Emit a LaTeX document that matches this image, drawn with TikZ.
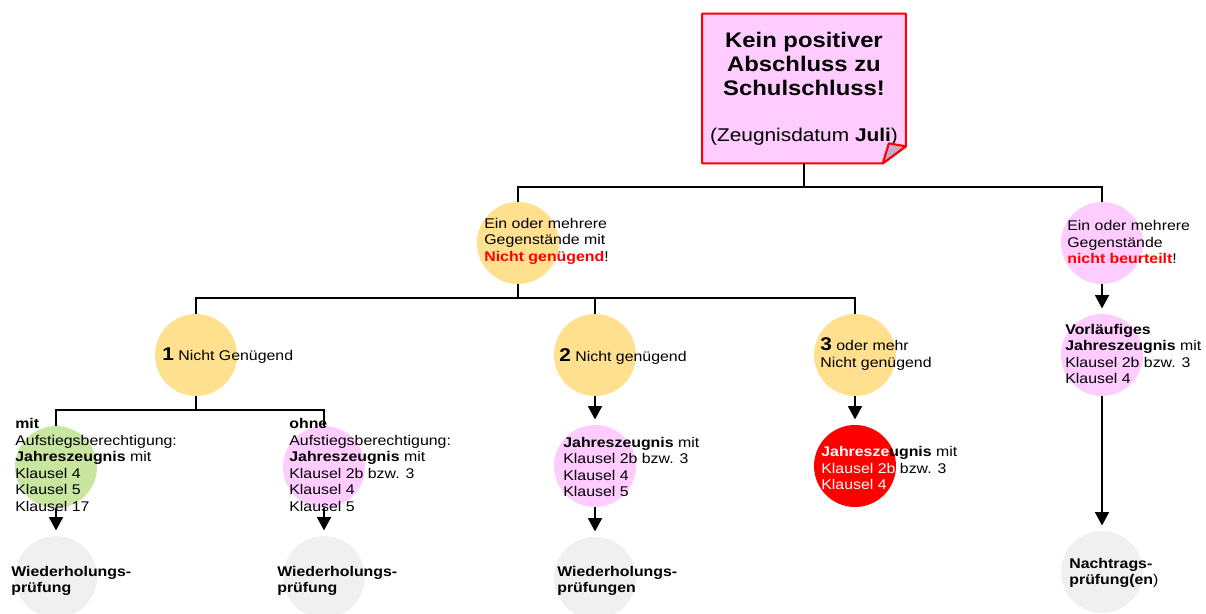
\documentclass[tikz,border=0pt]{standalone}
\usepackage{fontspec}
\setmainfont{Liberation Sans}[FakeStretch=1.13]
\usetikzlibrary{calc,positioning,arrows.meta}

\definecolor{gelb}{HTML}{FFE08F}
\definecolor{rosa}{HTML}{FFCCFF}
\definecolor{gruen}{HTML}{C8E6A0}
\definecolor{grau}{HTML}{F0F0F0}
\definecolor{knick}{HTML}{C8AACD}
\newcommand{\nzahl}[1]{{\fontsize{10.5}{9.4}\selectfont\bfseries #1}}

\begin{document}
\begin{tikzpicture}[x=0.02cm,y=-0.02cm,
  kreis/.style={circle,minimum size=1.64cm,inner sep=0pt},
  txt/.style={anchor=west,align=left,inner sep=0pt,font=\fontsize{8}{9.4}\selectfont},
  linie/.style={line width=0.6pt},
  pfeil/.style={linie,-{Triangle[width=8pt,length=7.5pt]},shorten >=3pt}]
  \clip (0,0) rectangle (1206,614);

  % Kopf
  \node[minimum width=4.06cm,minimum height=2.98cm,fill=rosa,inner sep=0pt,align=center,
        font=\fontsize{12}{13.9}\selectfont\bfseries] (kein) at (804,88.5)
    {Kein positiver\\Abschluss zu\\Schulschluss!\\[12pt]
     \fontsize{10.5}{12}\selectfont\mdseries(Zeugnisdatum \textbf{Juli})};
  \fill[white] (kein.south east) -- ($(kein.south east)+(0,-17)$) -- ($(kein.south east)+(-23,0)$) -- cycle;
  \draw[red,line width=1.2pt,line join=round] (kein.north west) -- (kein.north east) -- ($(kein.south east)+(0,-17)$)
    -- ($(kein.south east)+(-23,0)$) -- (kein.south west) -- cycle;
  \filldraw[fill=knick,draw=red,line width=1.2pt,line join=round] ($(kein.south east)+(-23,0)$)
    -- ($(kein.south east)+(-17,-20)$) -- ($(kein.south east)+(0,-17)$) -- cycle;

  % Kreise
  \node[kreis,fill=gelb] (mehrng) at (518,243) {};
  \node[kreis,fill=rosa] (mehrnb) at (1102,243) {};
  \node[kreis,fill=gelb] (eins) at (196,355) {};
  \node[kreis,fill=gelb] (zwei) at (595,355) {};
  \node[kreis,fill=gelb] (drei) at (855,355) {};
  \node[kreis,fill=rosa] (vorl) at (1102,355) {};
  \node[kreis,fill=gruen] (mitA) at (56,467) {};
  \node[kreis,fill=rosa] (ohneA) at (324,467) {};
  \node[kreis,fill=rosa] (jz2) at (595,466) {};
  \node[kreis,fill=red] (jz3) at (855,466) {};
  \node[kreis,fill=grau] (wh1) at (56,577) {};
  \node[kreis,fill=grau] (wh2) at (324,577) {};
  \node[kreis,fill=grau] (wh3) at (595,578) {};
  \node[kreis,fill=grau] (nachtr) at (1102,572) {};

  % Texte
  \node[txt] (mehrngT) at (484,241) {Ein oder mehrere\\Gegenstände mit\\\textcolor{red}{\textbf{Nicht genügend}}!};
  \node[txt] (mehrnbT) at (1067,242) {Ein oder mehrere\\Gegenstände\\\textcolor{red}{\textbf{nicht beurteilt}}!};
  \node[txt] (einsT) at (162,356) {\nzahl{1} Nicht Genügend};
  \node[txt] (zweiT) at (559,357) {\nzahl{2} Nicht genügend};
  \node[txt] (dreiT) at (820,354) {\nzahl{3} oder mehr\\Nicht genügend};
  \node[txt] (vorlT) at (1065,354) {\textbf{Vorläufiges}\\\textbf{Jahreszeugnis} mit\\Klausel 2b bzw. 3\\Klausel 4};
  \node[txt] (mitAT) at (15,465) {\textbf{mit}\\Aufstiegsberechtigung:\\\textbf{Jahreszeugnis} mit\\Klausel 4\\Klausel 5\\Klausel 17};
  \node[txt] (ohneAT) at (289,465) {\textbf{ohne}\\Aufstiegsberechtigung:\\\textbf{Jahreszeugnis} mit\\Klausel 2b bzw. 3\\Klausel 4\\Klausel 5};
  \node[txt] (jz2T) at (563,467) {\textbf{Jahreszeugnis} mit\\Klausel 2b bzw. 3\\Klausel 4\\Klausel 5};
  \node[txt] (jz3T) at (821,468) {\textbf{\textcolor{white}{Jahresze}ugnis} mit\\\textcolor{white}{Klausel 2b} bzw. 3\\\textcolor{white}{Klausel 4}};
  \node[txt,font=\fontsize{8}{9.4}\selectfont\bfseries] (wh1T) at (11,581) {Wiederholungs-\\prüfung};
  \node[txt,font=\fontsize{8}{9.4}\selectfont\bfseries] (wh2T) at (277,581) {Wiederholungs-\\prüfung};
  \node[txt,font=\fontsize{8}{9.4}\selectfont\bfseries] (wh3T) at (557,581) {Wiederholungs-\\prüfungen};
  \node[txt,font=\fontsize{8}{9.4}\selectfont\bfseries] (nachtrT) at (1069,573) {Nachtrags-\\prüfung(en\mdseries)};

  % Verbindungen
  \coordinate (ast1) at (804,187);
  \coordinate (ast2) at (518,298);
  \coordinate (ast3) at (196,410);
  \draw[linie] (kein.south) -- (ast1);
  \draw[linie] (mehrng.north) |- (ast1) -| (mehrnb.north);
  \draw[linie] (mehrng.south) -- (ast2);
  \draw[linie] (eins.north) |- (ast2) -| (drei.north);
  \draw[linie] (ast2) -| (zwei.north);
  \draw[linie] (eins.south) -- (ast3);
  \draw[linie] (mitA.north) |- (ast3) -| (ohneA.north);
  \draw[pfeil] (mehrnb) -- (vorl);
  \draw[pfeil] (zwei) -- (jz2);
  \draw[pfeil] (drei) -- (jz3);
  \draw[pfeil] (jz2) -- (wh3);
  \draw[pfeil] (mitA) -- (wh1);
  \draw[pfeil] (ohneA) -- (wh2);
  \draw[pfeil] (vorl) -- (nachtr);
\end{tikzpicture}
\end{document}
